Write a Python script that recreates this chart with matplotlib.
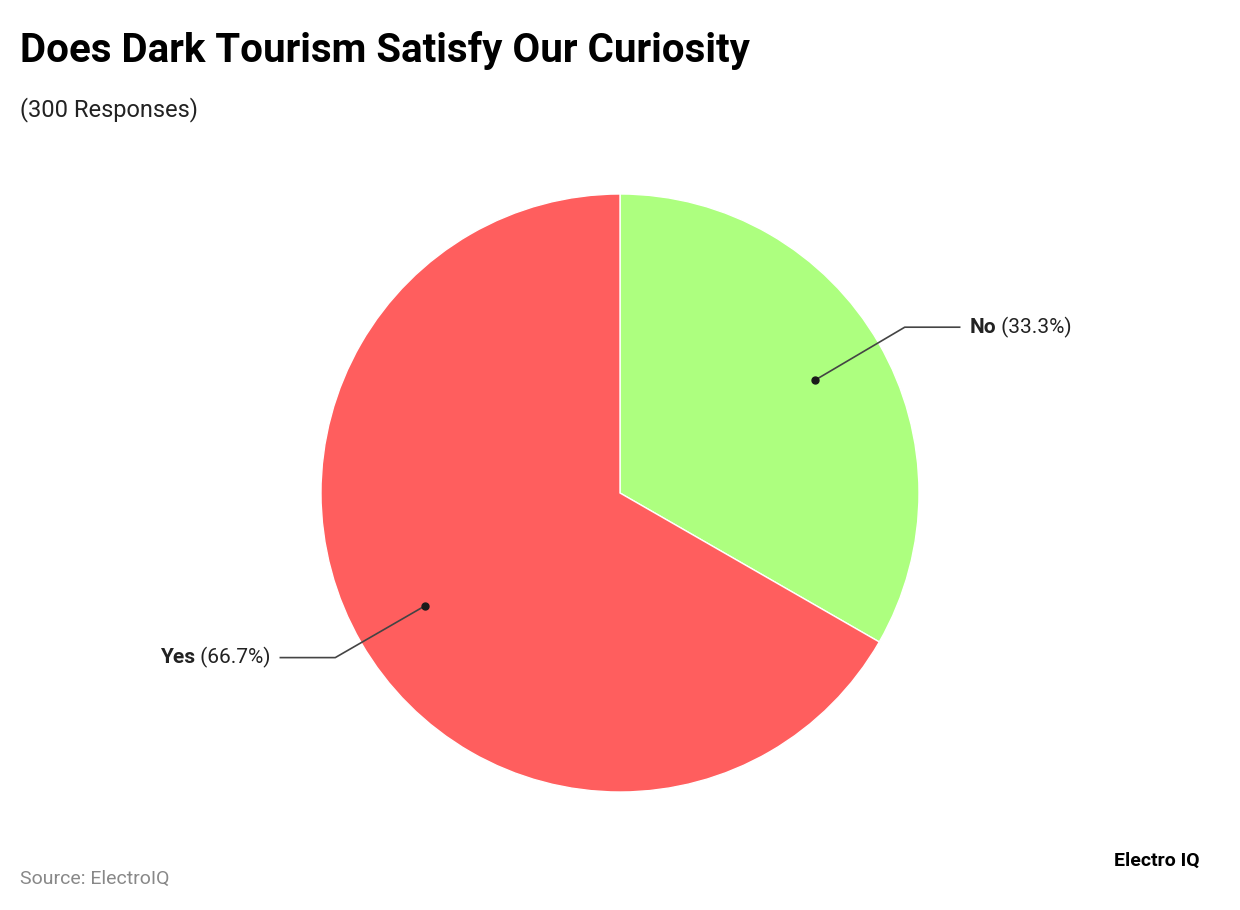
import matplotlib
matplotlib.use("Agg")
import matplotlib.pyplot as plt
import numpy as np

labels = ["No", "Yes"]
values = [33.3, 66.7]
colors = ["#adff7f", "#ff5e5e"]

plt.rcParams['font.family'] = ['Roboto', 'DejaVu Sans']
W, H = 1240, 910
fig = plt.figure(figsize=(12.4, 9.1), dpi=100)
ax = fig.add_axes([(620-300)/W, (910-493-300)/H, 600/W, 600/H])
ax.pie(values, colors=colors, startangle=90, counterclock=False, radius=299/300,
       wedgeprops=dict(edgecolor="white", linewidth=1))
ax.set_xlim(-1, 1); ax.set_ylim(-1, 1); ax.set_aspect('equal'); ax.axis('off')

def d(px, py):
    return ((px-620)/300, -(py-493)/300)

# label leader lines
cum = 0
for lab, v in zip(labels, values):
    mid = np.deg2rad(90 - 360*(cum + v/2)/100)
    cum += v
    r = 0.75
    x0, y0 = r*np.cos(mid), r*np.sin(mid)
    side = 1 if np.cos(mid) > 0 else -1
    x1, y1 = x0 + side*0.30, y0 + 0.177
    if side < 0:
        y1 = y0 - 0.173
    x2 = x1 + side*0.183
    ax.plot([x0, x1, x2], [y0, y1, y1], color="#444444", lw=1.2, clip_on=False)
    ax.plot([x0], [y0], 'o', color="#1a1a1a", ms=5, clip_on=False)
    tx = x2 + side*0.033
    ha = 'left' if side > 0 else 'right'
    ax.text(tx, y1, lab + " ", fontsize=15, fontweight='bold', ha=ha, va='center',
            color="#222222") if False else None
    if side > 0:
        t = ax.annotate(lab, (tx, y1), fontsize=15, fontweight='bold', ha='left', va='center', color="#222222", annotation_clip=False)
        ax.annotate(f" ({v}%)", xycoords=t, xy=(1, 0.5), va='center', ha='left', fontsize=15, color="#222222")
    else:
        t = ax.annotate(f" ({v}%)", (tx, y1), fontsize=15, ha='right', va='center', color="#222222", annotation_clip=False)
        ax.annotate(lab, xycoords=t, xy=(0, 0.5), va='center', ha='right', fontsize=15, fontweight='bold', color="#222222")

fig.text(20/W, 1-62/H, "Does Dark Tourism Satisfy Our Curiosity", fontsize=29, fontweight='bold', color="black")
fig.text(20/W, 1-116/H, "(300 Responses)", fontsize=17, color="#222222")
fig.text(20/W, 1-884/H, "Source: ElectroIQ", fontsize=14, color="#888888")
fig.text(1200/W, 1-866/H, "Electro IQ", fontsize=14, fontweight='bold', color="black", ha='right')
fig.savefig("out.png", dpi=100, facecolor="white")
